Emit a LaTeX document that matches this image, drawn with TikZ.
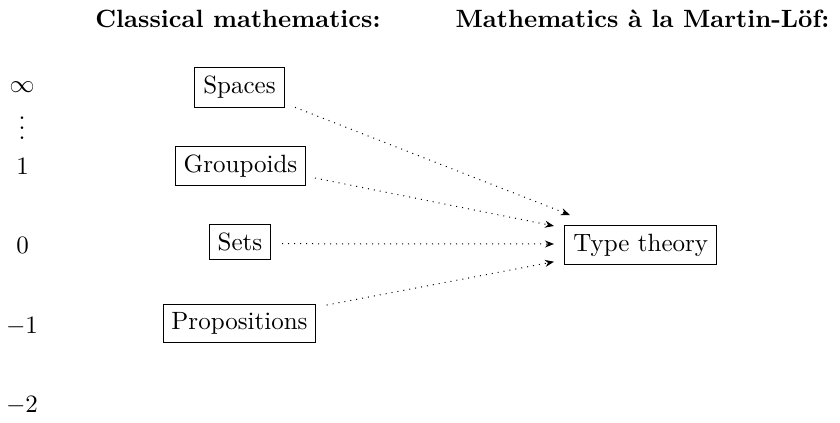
\documentclass[tikz,border=0pt]{standalone}
\usetikzlibrary{arrows.meta}
\begin{document}
\begin{tikzpicture}[x=0.4pt,y=-0.4pt,
  box/.style={draw,rectangle,inner sep=3.333pt},
  lvl/.style={inner sep=0pt},
  hdr/.style={anchor=base,inner sep=0pt,font=\bfseries},
  arr/.style={dotted,-{Stealth[length=3.6pt,width=2.8pt]}}]
\useasboundingbox (0,0) rectangle (840,422);
% headers
\node[hdr] (h1) at (238,27) {Classical mathematics:};
\node[hdr] (h2) at (642.5,27) {Mathematics à la Martin-Löf:};
% levels
\node[lvl] (linf) at (22,87) {$\infty$};
\node[lvl] (ldots) at (22,121) {$\vdots$};
\node[lvl] (l1) at (22.5,166) {$1$};
\node[lvl] (l0) at (22.5,245) {$0$};
\node[lvl] (lm1) at (22,326.5) {$-1$};
\node[lvl] (lm2) at (22,405) {$-2$};
% nodes
\node[box] (spaces) at (239.5,87.5) {Spaces};
\node[box] (groupoids) at (240.5,166) {Groupoids};
\node[box] (sets) at (240,242) {Sets};
\node[box] (props) at (239.5,323.5) {Propositions};
\node[box] (tt) at (640.7,245) {Type theory};
% arrow ends
\coordinate (s1) at (295,107.3);
\coordinate (e1) at (570,215);
\coordinate (s2) at (315,178);
\coordinate (e2) at (554,226);
\coordinate (s3) at (282,243.7);
\coordinate (e3) at (554,244);
\coordinate (s4) at (326.7,305);
\coordinate (e4) at (554,261.7);
\draw[arr] (s1) -- (e1);
\draw[arr] (s2) -- (e2);
\draw[arr] (s3) -- (e3);
\draw[arr] (s4) -- (e4);
\end{tikzpicture}
\end{document}
